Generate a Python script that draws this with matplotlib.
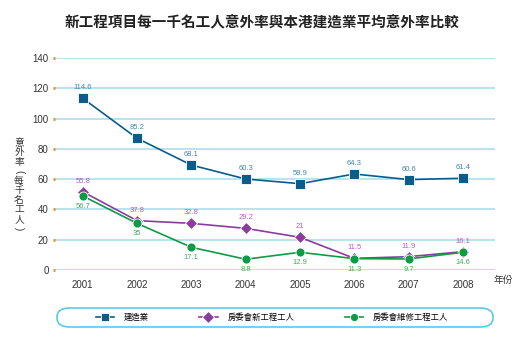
import matplotlib.pyplot as plt
from matplotlib.patches import FancyBboxPatch

plt.rcParams['font.family'] = ['Liberation Sans', 'Noto Sans CJK TC', 'DejaVu Sans']

years = [2001, 2002, 2003, 2004, 2005, 2006, 2007, 2008]

# positions as drawn in the picture
construction = [113.4, 87.0, 69.3, 60.1, 57.0, 63.4, 59.7, 60.6]
ha_new = [51.7, 32.6, 30.8, 27.5, 21.6, 7.7, 8.8, 12.1]
ha_maint = [48.9, 30.8, 15.0, 7.1, 11.7, 7.5, 7.3, 11.7]

# printed data labels
construction_lbl = ['114.6', '85.2', '68.1', '60.3', '59.9', '64.3', '60.6', '61.4']
ha_new_lbl = ['55.8', '37.8', '32.8', '29.2', '21', '11.5', '11.9', '16.1']
ha_maint_lbl = ['56.7', '35', '17.1', '8.8', '12.9', '11.3', '9.7', '14.6']

names = ['建造業', '房委會新工程工人', '房委會維修工程工人']
ylabel = '意外率(每千名工人)'

fig = plt.figure(figsize=(5.25, 3.45), dpi=100)
ax = fig.add_axes([55/525, 1-270/345, 440/525, 212/345])

c_blue, c_purple, c_green = '#0b5c8c', '#8a3d9c', '#0f9a48'
l_blue, l_purple, l_green = '#3f86b4', '#b35cc4', '#3fae62'

ax.plot(years, construction, '-s', color=c_blue, lw=1.2, ms=6.5, mec='white', mew=0.6, label=names[0], zorder=3)
ax.plot(years, ha_new, '-D', color=c_purple, lw=1.2, ms=6.5, mec='white', mew=0.6, label=names[1], zorder=3)
ax.plot(years, ha_maint, '-o', color=c_green, lw=1.2, ms=6.5, mec='white', mew=0.6, label=names[2], zorder=4)

for x, y, t in zip(years, construction, construction_lbl):
    ax.annotate(t, (x, y), xytext=(0, 5), textcoords='offset points', ha='center', va='bottom', fontsize=5.5, color=l_blue)
for x, y, t in zip(years, ha_new, ha_new_lbl):
    ax.annotate(t, (x, y), xytext=(0, 5), textcoords='offset points', ha='center', va='bottom', fontsize=5.5, color=l_purple)
for x, y, t in zip(years, ha_maint, ha_maint_lbl):
    ax.annotate(t, (x, y), xytext=(0, -5), textcoords='offset points', ha='center', va='top', fontsize=5.5, color=l_green)

ax.set_xlim(2000.49, 2008.59)
ax.set_ylim(0, 140)
ax.set_yticks(range(0, 141, 20))
ax.set_xticks(years)
ax.grid(axis='y', color='#a6dbe8', lw=1.1, zorder=0)
for s in ax.spines.values():
    s.set_visible(False)
ax.tick_params(axis='y', length=1.5, width=2, color='#f08a24', pad=3, labelsize=7, labelcolor='#333333')
ax.tick_params(axis='x', length=0, pad=7, labelsize=7, labelcolor='#333333')

fig.text(503/525, 1-280/345, '年份', fontsize=7, color='#333333', ha='center', va='center')

# stacked vertical y label, brackets turned sideways
for i, ch in enumerate(ylabel):
    rot = -90 if ch in '()' else 0
    fig.text(19/525, 1-(143 + i*9.5)/345, ch, fontsize=7, color='#333333',
             ha='center', va='center', rotation=rot)

fig.text(262/525, 1-23/345, '新工程項目每一千名工人意外率與本港建造業平均意外率比較',
         fontsize=10.5, color='#222222', ha='center', va='center', fontweight='bold')

box = FancyBboxPatch((57/525, 1-327/345), 436/525, 19/345, transform=fig.transFigure,
                     boxstyle='round,pad=0,rounding_size=0.025', fc='white', ec='#5cc8ee', lw=1.2)
fig.patches.append(box)
fig.legend(loc='center', bbox_to_anchor=(272/525, 1-317.5/345), ncol=3, frameon=False,
           fontsize=6, columnspacing=6.0, handlelength=2.2, handletextpad=1.2, markerscale=0.9)

fig.savefig('out.png', dpi=100)
